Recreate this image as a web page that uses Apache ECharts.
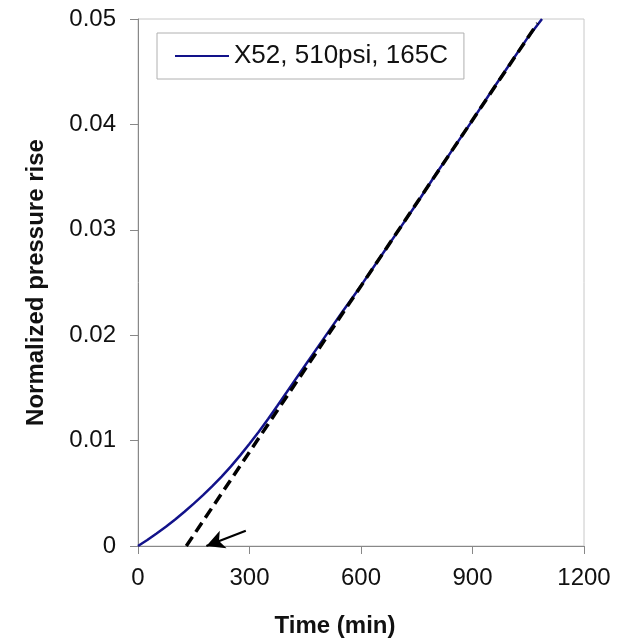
<!DOCTYPE html>
<html>
<head>
<meta charset="utf-8">
<script src="https://cdn.jsdelivr.net/npm/echarts@6/dist/echarts.min.js"></script>
<style>html,body{margin:0;padding:0;background:#fff;}#c{width:625px;height:643px;}</style>
</head>
<body>
<div id="c"></div>
<script>
// Measured curve: X52, 510psi, 165C  [time (min), normalized pressure rise]
const seriesName = 'X52, 510psi, 165C';
const measuredX = [0, 25, 50, 75, 100, 125, 150, 175, 200, 225, 250, 275, 300, 325, 350, 375, 400, 450, 500, 550, 600, 650, 700, 750, 800, 850, 900, 950, 1000, 1050, 1087];
const measuredY = [0, 0.00057, 0.00119, 0.00183, 0.00252, 0.00325, 0.00402, 0.00482, 0.00568, 0.00659, 0.00756, 0.00860, 0.00970, 0.01085, 0.01205, 0.01330, 0.01458, 0.01715, 0.01970, 0.02222, 0.0247, 0.0273, 0.0299, 0.0325, 0.0352, 0.0378, 0.0404, 0.0431, 0.0457, 0.0483, 0.0500];
// Linear (steady-state) fit, dashed
const fitX = [130, 1075];
const fitY = [0, 0.0496];
// Arrow annotation (tail -> tip) pointing at the time-lag intercept
const arrowTail = [290, 0.00145];
const arrowTip = [184, 0.0];
// Axis ticks
const xTicks = [0, 300, 600, 900, 1200];
const yTicks = [0, 0.01, 0.02, 0.03, 0.04, 0.05];

const FONT = 'Liberation Sans, Arial, sans-serif';
const chart = echarts.init(document.getElementById('c'), null, {renderer: 'canvas'});
chart.setOption({
  animation: false,
  backgroundColor: '#fff',
  grid: {left: 138, right: 41, top: 19, bottom: 96, show: true, borderColor: '#c8c8c8', borderWidth: 1},
  legend: {
    data: [{name: seriesName, icon: 'rect'}], left: 157, top: 33,
    padding: [10, 16, 10, 18],
    borderColor: '#b0b0b0', borderWidth: 1,
    itemWidth: 54, itemHeight: 2, itemGap: 6,
    itemStyle: {color: '#12128a', borderWidth: 0},
    textStyle: {fontFamily: FONT, fontSize: 26, color: '#111', lineHeight: 24}
  },
  xAxis: {
    type: 'value', min: xTicks[0], max: xTicks[xTicks.length - 1], interval: 300,
    name: 'Time (min)', nameLocation: 'middle', nameGap: 68,
    nameTextStyle: {fontFamily: FONT, fontSize: 24, fontWeight: 'bold', color: '#111', padding: [0, 52, 0, 0]},
    axisLine: {show: true, lineStyle: {color: '#888', width: 1}},
    axisTick: {show: true, inside: false, length: 8, lineStyle: {color: '#888'}},
    axisLabel: {fontFamily: FONT, fontSize: 24, color: '#111', margin: 20, formatter: v => String(v)},
    splitLine: {show: false}
  },
  yAxis: {
    type: 'value', min: yTicks[0], max: yTicks[yTicks.length - 1], interval: 0.01,
    name: 'Normalized pressure rise', nameLocation: 'middle', nameGap: 90,
    nameTextStyle: {fontFamily: FONT, fontSize: 24, fontWeight: 'bold', color: '#111'},
    axisLine: {show: true, lineStyle: {color: '#888', width: 1}},
    axisTick: {show: true, inside: false, length: 8, lineStyle: {color: '#888'}},
    axisLabel: {fontFamily: FONT, fontSize: 24, color: '#111', margin: 22,
      formatter: v => v === 0 ? '0' : v.toFixed(2)},
    splitLine: {show: false}
  },
  series: [
    {
      name: seriesName, type: 'line', showSymbol: false, symbol: 'none', smooth: false,
      data: measuredX.map((x, i) => [x, measuredY[i]]),
      lineStyle: {color: '#12128a', width: 2.5}, itemStyle: {color: '#12128a'}, z: 2
    },
    {
      name: 'fit', type: 'line', showSymbol: false, symbol: 'none',
      data: fitX.map((x, i) => [x, fitY[i]]),
      lineStyle: {color: '#000', width: 3.5, type: [11, 6]}, z: 3,
      markLine: {
        silent: true, symbol: ['none', 'arrow'], symbolSize: [14, 18],
        label: {show: false},
        lineStyle: {color: '#000', width: 2.2, type: 'solid'},
        data: [[{coord: arrowTail}, {coord: arrowTip}]]
      }
    }
  ]
});
</script>
</body>
</html>
